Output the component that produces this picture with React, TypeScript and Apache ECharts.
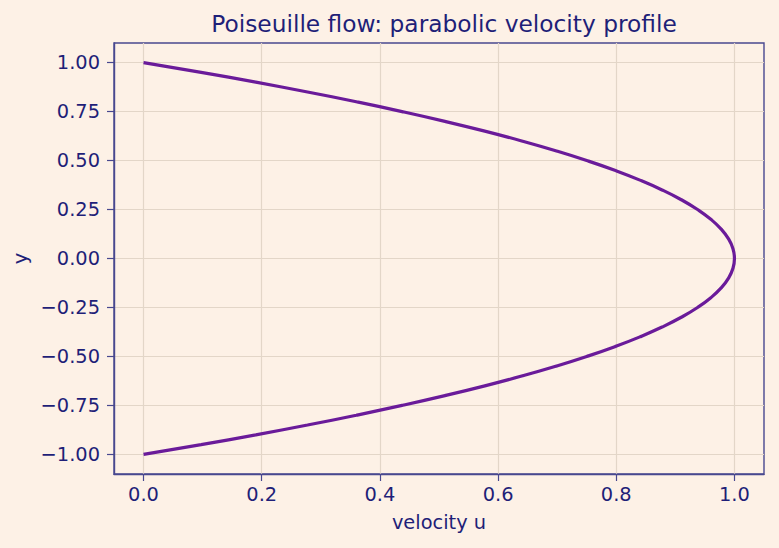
import React, { useEffect, useRef } from "react";
import * as echarts from "echarts";

// Cross-channel position y and the streamwise velocity u measured there
const yPos = [
  -1.0, -0.95, -0.9, -0.85, -0.8, -0.75, -0.7, -0.65, -0.6, -0.55, -0.5,
  -0.45, -0.4, -0.35, -0.3, -0.25, -0.2, -0.15, -0.1, -0.05, 0.0,
  0.05, 0.1, 0.15, 0.2, 0.25, 0.3, 0.35, 0.4, 0.45, 0.5,
  0.55, 0.6, 0.65, 0.7, 0.75, 0.8, 0.85, 0.9, 0.95, 1.0,
];
const uVel = [
  0.0, 0.0975, 0.19, 0.2775, 0.36, 0.4375, 0.51, 0.5775, 0.64, 0.6975, 0.75,
  0.7975, 0.84, 0.8775, 0.91, 0.9375, 0.96, 0.9775, 0.99, 0.9975, 1.0,
  0.9975, 0.99, 0.9775, 0.96, 0.9375, 0.91, 0.8775, 0.84, 0.7975, 0.75,
  0.6975, 0.64, 0.5775, 0.51, 0.4375, 0.36, 0.2775, 0.19, 0.0975, 0.0,
];

const xTicks = [0, 0.2, 0.4, 0.6, 0.8, 1.0];
const yTicks = [-1.0, -0.75, -0.5, -0.25, 0, 0.25, 0.5, 0.75, 1.0];

const INK = "#1f1f78";
const FRAME = "#48488f";
const GRID = "#e3d6c8";
const LINE = "#6a1b9a";
const BG = "#fdf1e6";
const FONT = "DejaVu Sans";
const TICK_FS = 19.4;
const TITLE_FS = 23.3;

const fmt = (v: number, d: number) => {
  const s = Math.abs(v).toFixed(d);
  return v < 0 ? "\u2212" + s : s;
};

export default function App() {
  const ref = useRef<HTMLDivElement>(null);

  useEffect(() => {
    const chart = echarts.init(ref.current!, undefined, { renderer: "svg" });
    chart.setOption({
      animation: false,
      backgroundColor: BG,
      textStyle: { fontFamily: FONT },
      title: {
        text: "Poiseuille flow: parabolic velocity profile",
        left: 439,
        top: 7,
        textAlign: "center",
        textStyle: { color: INK, fontSize: TITLE_FS, fontWeight: "normal", fontFamily: FONT },
      },
      grid: {
        left: 114,
        right: 15,
        top: 43,
        bottom: 74,
        show: true,
        borderColor: FRAME,
        borderWidth: 1.4,
        backgroundColor: "transparent",
      },
      xAxis: {
        type: "value",
        min: -0.05,
        max: 1.05,
        name: "velocity u",
        nameLocation: "middle",
        nameGap: 39,
        nameTextStyle: { color: INK, fontSize: TICK_FS, fontFamily: FONT },
        axisLine: { show: true, onZero: false, lineStyle: { color: FRAME, width: 1.4 } },
        axisTick: {
          show: true,
          inside: false,
          length: 7,
          lineStyle: { color: FRAME, width: 1.2 },
          customValues: xTicks,
        },
        axisLabel: {
          color: INK,
          fontSize: TICK_FS,
          margin: 11,
          fontFamily: FONT,
          customValues: xTicks,
          formatter: (v: number) => fmt(v, 1),
        },
        splitLine: { show: true, lineStyle: { color: GRID, width: 1.2 } },
      },
      yAxis: {
        type: "value",
        min: -1.1,
        max: 1.1,
        name: "y",
        nameLocation: "middle",
        nameGap: 80,
        nameRotate: 90,
        nameTextStyle: { color: INK, fontSize: TICK_FS, fontFamily: FONT },
        axisLine: { show: true, onZero: false, lineStyle: { color: FRAME, width: 1.4 } },
        axisTick: {
          show: true,
          inside: false,
          length: 7,
          lineStyle: { color: FRAME, width: 1.2 },
          customValues: yTicks,
        },
        axisLabel: {
          color: INK,
          fontSize: TICK_FS,
          margin: 14,
          fontFamily: FONT,
          customValues: yTicks,
          formatter: (v: number) => fmt(v, 2),
        },
        splitLine: { show: true, lineStyle: { color: GRID, width: 1.2 } },
      },
      series: [
        {
          type: "line",
          data: uVel.map((u, i) => [u, yPos[i]]),
          smooth: true,
          showSymbol: false,
          lineStyle: { color: LINE, width: 3.2 },
          z: 5,
        },
      ],
    });
    return () => chart.dispose();
  }, []);

  return (
    <div
      ref={ref}
      style={{ width: 779, height: 548, position: "absolute", left: 0, top: 0 }}
    />
  );
}
